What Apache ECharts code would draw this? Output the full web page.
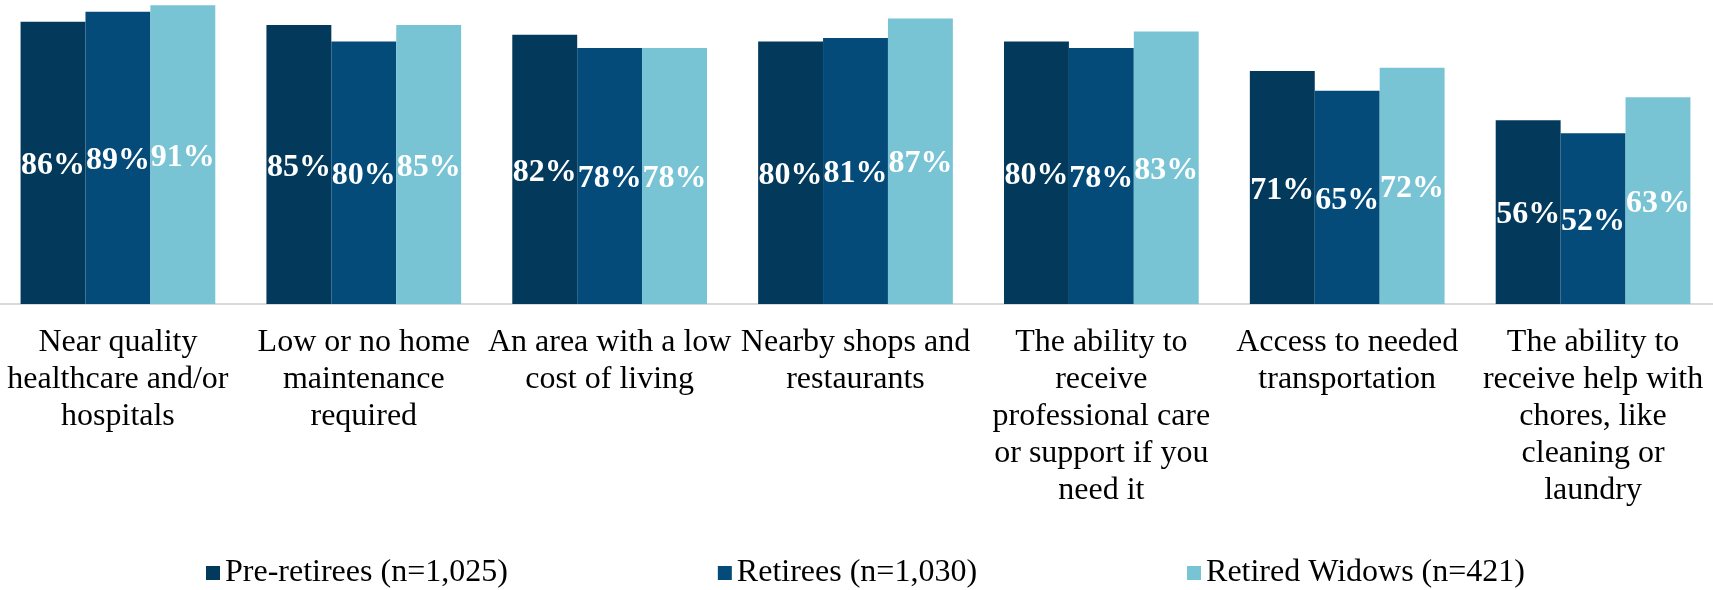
<!DOCTYPE html>
<html>
<head>
<meta charset="utf-8">
<script src="https://cdn.jsdelivr.net/npm/echarts@6/dist/echarts.min.js"></script>
<style>
html,body{margin:0;padding:0;background:#fff;}
#chart{width:1713px;height:590px;}
</style>
</head>
<body>
<div id="chart"></div>
<script>
const categories = [
  "Near quality\nhealthcare and/or\nhospitals",
  "Low or no home\nmaintenance\nrequired",
  "An area with a low\ncost of living",
  "Nearby shops and\nrestaurants",
  "The ability to\nreceive\nprofessional care\nor support if you\nneed it",
  "Access to needed\ntransportation",
  "The ability to\nreceive help with\nchores, like\ncleaning or\nlaundry"
];
const seriesNames = ["Pre-retirees (n=1,025)", "Retirees (n=1,030)", "Retired Widows (n=421)"];
const preRetirees = [86, 85, 82, 80, 80, 71, 56];
const retirees = [89, 80, 78, 81, 78, 65, 52];
const retiredWidows = [91, 85, 78, 87, 83, 72, 63];
const colors = ["#033A5C", "#044B7A", "#78C4D4"];

const chart = echarts.init(document.getElementById('chart'), null, {renderer: 'canvas'});
const font = "'Liberation Serif', 'Times New Roman', serif";
function mk(name, data, color) {
  return {
    name: name, type: 'bar', data: data, barWidth: '26.4%', barGap: '0%',
    itemStyle: {color: color},
    label: {show: true, position: 'inside', offset: [0, 3], color: '#fff', fontFamily: font, fontWeight: 'bold', fontSize: 32, formatter: '{c}%'},
    emphasis: {disabled: true}
  };
}
chart.setOption({
  animation: false,
  textStyle: {fontFamily: font},
  grid: {left: -5, right: -3, top: 2, bottom: 286, containLabel: false, outerBoundsMode: 'none'},
  legend: {
    left: 201, top: 552, icon: 'rect', itemWidth: 14, itemHeight: 14, itemGap: 210,
    textStyle: {fontFamily: font, fontSize: 32, color: '#000'},
    data: seriesNames
  },
  xAxis: {
    type: 'category', data: categories,
    axisLine: {lineStyle: {color: '#D9D9D9', width: 2}},
    axisTick: {show: false},
    axisLabel: {interval: 0, fontFamily: font, fontSize: 32, lineHeight: 37, color: '#000', margin: 20, verticalAlign: 'top'}
  },
  yAxis: {type: 'value', min: 0, max: 92, show: false, splitLine: {show: false}},
  series: [
    mk(seriesNames[0], preRetirees, colors[0]),
    mk(seriesNames[1], retirees, colors[1]),
    mk(seriesNames[2], retiredWidows, colors[2])
  ]
});
</script>
</body>
</html>
